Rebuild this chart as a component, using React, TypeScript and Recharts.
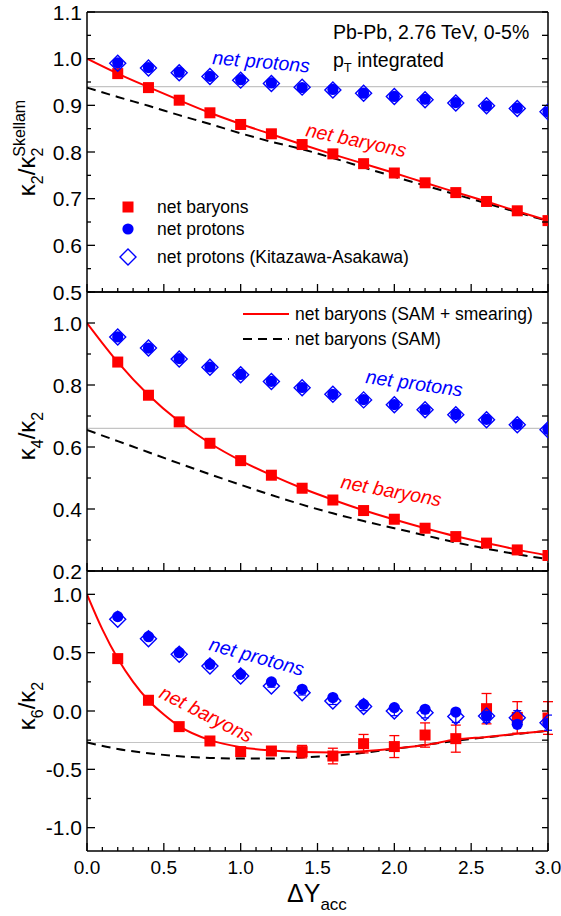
import React from 'react';
import { ComposedChart, Line, Scatter, XAxis, YAxis, ReferenceLine, ErrorBar } from 'recharts';

// x positions of the points (Delta Y_acc)
const xPoints = [0.2, 0.4, 0.6, 0.8, 1.0, 1.2, 1.4, 1.6, 1.8, 2.0, 2.2, 2.4, 2.6, 2.8, 3.0];
const curveX = [0, 0.2, 0.4, 0.6, 0.8, 1.0, 1.2, 1.4, 1.6, 1.8, 2.0, 2.2, 2.4, 2.6, 2.8, 3.0];
const k6CurveX = [0, 0.1, 0.2, 0.3, 0.4, 0.5, 0.6, 0.8, 1.0, 1.2, 1.4, 1.6, 1.8, 2.0, 2.2, 2.4, 2.6, 2.8, 3.0];

// kappa2 / kappa2 Skellam
const k2Baryons = [0.968, 0.938, 0.911, 0.884, 0.859, 0.839, 0.816, 0.796, 0.775, 0.755, 0.734, 0.713, 0.694, 0.674, 0.653];
const k2Protons = [0.991, 0.981, 0.971, 0.962, 0.955, 0.948, 0.938, 0.934, 0.926, 0.919, 0.913, 0.906, 0.899, 0.894, 0.886];
const k2ProtonsKA = [0.990, 0.980, 0.970, 0.962, 0.954, 0.947, 0.939, 0.933, 0.926, 0.919, 0.912, 0.905, 0.899, 0.893, 0.886];
const k2Smear = [1.0, 0.968, 0.939, 0.911, 0.884, 0.860, 0.838, 0.816, 0.795, 0.775, 0.755, 0.734, 0.714, 0.694, 0.673, 0.653];
const k2Sam = [0.938, 0.918, 0.899, 0.879, 0.860, 0.840, 0.822, 0.806, 0.787, 0.767, 0.747, 0.728, 0.709, 0.690, 0.671, 0.652];

// kappa4 / kappa2
const k4Baryons = [0.874, 0.767, 0.681, 0.612, 0.556, 0.509, 0.467, 0.429, 0.395, 0.367, 0.338, 0.311, 0.290, 0.268, 0.250];
const k4Protons = [0.955, 0.919, 0.885, 0.858, 0.834, 0.812, 0.792, 0.770, 0.753, 0.737, 0.721, 0.705, 0.689, 0.673, 0.657];
const k4ProtonsKA = [0.955, 0.919, 0.884, 0.857, 0.833, 0.811, 0.791, 0.770, 0.752, 0.736, 0.720, 0.704, 0.688, 0.672, 0.656];
const k4Smear = [1.0, 0.874, 0.768, 0.682, 0.612, 0.556, 0.509, 0.467, 0.430, 0.396, 0.366, 0.338, 0.312, 0.290, 0.269, 0.250];
const k4Sam = [0.655, 0.619, 0.583, 0.547, 0.512, 0.478, 0.445, 0.414, 0.386, 0.361, 0.338, 0.315, 0.292, 0.272, 0.254, 0.238];

// kappa6 / kappa2
const k6Baryons = [0.449, 0.092, -0.134, -0.257, -0.348, -0.343, -0.348, -0.386, -0.28, -0.305, -0.206, -0.237, 0.02, -0.055, -0.06];
const k6BaryonsErr = [0, 0, 0, 0, 0, 0.02, 0.053, 0.067, 0.079, 0.094, 0.104, 0.116, 0.13, 0.135, 0.14];
const k6Protons = [0.809, 0.637, 0.5, 0.40, 0.314, 0.249, 0.186, 0.115, 0.057, 0.029, 0.015, -0.009, -0.043, -0.114, -0.105];
const k6ProtonsKA = [0.786, 0.62, 0.486, 0.386, 0.30, 0.214, 0.157, 0.086, 0.038, 0.0, -0.014, -0.048, -0.043, -0.057, -0.1];
const k6ProtonsKAErr = [0, 0, 0, 0, 0, 0.01, 0.02, 0.03, 0.035, 0.04, 0.045, 0.05, 0.055, 0.06, 0.065];
const k6Smear = [1.0, 0.70, 0.45, 0.25, 0.09, -0.03, -0.13, -0.25, -0.31, -0.338, -0.352, -0.355, -0.345, -0.322, -0.292, -0.245, -0.222, -0.196, -0.17];
const k6Sam = [-0.27, -0.325, -0.362, -0.388, -0.402, -0.408, -0.407, -0.398, -0.384, -0.358, -0.325, -0.29, -0.256, -0.225, -0.197, -0.17];

// ticks
const xTicks = [0, 0.1, 0.2, 0.3, 0.4, 0.5, 0.6, 0.7, 0.8, 0.9, 1.0, 1.1, 1.2, 1.3, 1.4, 1.5, 1.6, 1.7, 1.8, 1.9, 2.0, 2.1, 2.2, 2.3, 2.4, 2.5, 2.6, 2.7, 2.8, 2.9, 3.0];
const xMajors = [0, 0.5, 1.0, 1.5, 2.0, 2.5, 3.0];
const k2Ticks = [0.5, 0.55, 0.6, 0.65, 0.7, 0.75, 0.8, 0.85, 0.9, 0.95, 1.0, 1.05, 1.1];
const k2Labels = [0.5, 0.6, 0.7, 0.8, 0.9, 1.0, 1.1];
const k4Ticks = [0.2, 0.3, 0.4, 0.5, 0.6, 0.7, 0.8, 0.9, 1.0, 1.1];
const k4Labels = [0.2, 0.4, 0.6, 0.8, 1.0];
const k6Ticks = [-1.0, -0.75, -0.5, -0.25, 0, 0.25, 0.5, 0.75, 1.0];
const k6Labels = [-1.0, -0.5, 0, 0.5, 1.0];

const FONT = '"Liberation Sans", Arial, Helvetica, sans-serif';
const RED = '#ff0000';
const BLUE = '#0000ff';
const GRAY = '#c4c4c4';
const AXIS = { stroke: '#000', strokeWidth: 1.5 };

const pts = (xs: number[], ys: number[], err?: number[]) =>
  xs.map((x, i) => ({ x, y: ys[i], err: err ? err[i] : 0 }));

const near = (v: number, list: number[]) => list.some(m => Math.abs(m - v) < 1e-6);

const makeTick = (side: string, majors: number[], labels: number[], fontSize: number) => (props: any) => {
  const { x, y, payload } = props;
  const v = payload.value;
  const len = side === 'right' ? 6 : near(v, majors) ? 8 : 4;
  const show = near(v, labels);
  let line;
  let label = null;
  if (side === 'bottom') {
    line = <line x1={x} y1={y} x2={x} y2={y - len} />;
    if (show) label = <text x={x} y={y + 23} textAnchor="middle">{v.toFixed(1)}</text>;
  } else if (side === 'top') {
    line = <line x1={x} y1={y} x2={x} y2={y + len} />;
  } else if (side === 'left') {
    line = <line x1={x} y1={y} x2={x + len} y2={y} />;
    if (show) label = <text x={x - 5} y={y + 7.5} textAnchor="end">{v.toFixed(1)}</text>;
  } else {
    line = <line x1={x} y1={y} x2={x - len} y2={y} />;
  }
  return (
    <g stroke="none">
      <g stroke="#000" strokeWidth={1.3}>{line}</g>
      <g fill="#000" fontSize={fontSize} fontFamily={FONT}>{label}</g>
    </g>
  );
};

const axes = (yDomain: [number, number], yTicks: number[], yMajors: number[], yLabels: number[], showX: boolean) => [
  <XAxis key="xb" dataKey="x" type="number" domain={[0, 3]} allowDataOverflow ticks={xTicks} interval={0}
    mirror tickSize={0} tickMargin={0} tickLine={false} axisLine={AXIS}
    tick={makeTick('bottom', xMajors, showX ? xMajors : [], 19)} />,
  <XAxis key="xt" xAxisId="top" orientation="top" type="number" domain={[0, 3]} allowDataOverflow ticks={xTicks} interval={0}
    mirror tickSize={0} tickMargin={0} tickLine={false} axisLine={AXIS}
    tick={makeTick('top', xMajors, [], 18)} />,
  <YAxis key="yl" dataKey="y" type="number" domain={yDomain} allowDataOverflow ticks={yTicks} interval={0}
    mirror tickSize={0} tickMargin={0} tickLine={false} axisLine={AXIS}
    tick={makeTick('left', yMajors, yLabels, 21)} />,
  <YAxis key="yr" yAxisId="right" orientation="right" type="number" domain={yDomain} allowDataOverflow ticks={yTicks} interval={0}
    mirror tickSize={0} tickMargin={0} tickLine={false} axisLine={AXIS}
    tick={makeTick('right', yMajors, [], 18)} />,
];

const Square = (p: any) => <rect x={p.cx - 5.5} y={p.cy - 5.5} width={11} height={11} fill={RED} />;
const Dot = (p: any) => <circle cx={p.cx} cy={p.cy} r={5.6} fill={BLUE} />;
const Diamond = (p: any) => (
  <polygon points={`${p.cx},${p.cy - 8} ${p.cx + 8},${p.cy} ${p.cx},${p.cy + 8} ${p.cx - 8},${p.cy}`}
    fill="none" stroke={BLUE} strokeWidth={1.4} />
);

const smearLine = (xs: number[], ys: number[]) => (
  <Line key="smear" data={pts(xs, ys)} dataKey="y" type="monotone" stroke={RED} strokeWidth={2} dot={false}
    isAnimationActive={false} />
);
const samLine = (xs: number[], ys: number[]) => (
  <Line key="sam" data={pts(xs, ys)} dataKey="y" type="monotone" stroke="#000" strokeWidth={2}
    strokeDasharray="9 6" dot={false} isAnimationActive={false} />
);

const W = 561;
const MARGIN = { top: 12, right: 13, left: 87 };

const App: React.FC = () => {
  const italic = { fontFamily: FONT, fontStyle: 'italic' as const, fontSize: 19.5 };
  return (
    <div style={{ position: 'absolute', left: 0, top: 0, width: W, height: 916, background: '#fff', fontFamily: FONT }}>
      <div style={{ position: 'absolute', left: 0, top: 0 }}>
        <ComposedChart width={W} height={312} margin={{ ...MARGIN, bottom: 20 }}>
          {axes([0.5, 1.1], k2Ticks, k2Labels, k2Labels, false)}
          <ReferenceLine y={0.94} stroke={GRAY} strokeWidth={1.2} />
          {samLine(curveX, k2Sam)}
          {smearLine(curveX, k2Smear)}
          <Scatter data={pts(xPoints, k2Baryons)} shape={Square} isAnimationActive={false} />
          <Scatter data={pts(xPoints, k2ProtonsKA)} shape={Diamond} isAnimationActive={false} />
          <Scatter data={pts(xPoints, k2Protons)} shape={Dot} isAnimationActive={false} />
        </ComposedChart>
      </div>
      <div style={{ position: 'absolute', left: 0, top: 280 }}>
        <ComposedChart width={W} height={312} margin={{ ...MARGIN, bottom: 21 }}>
          {axes([0.2, 1.1], k4Ticks, k4Labels, k4Labels, false)}
          <ReferenceLine y={0.66} stroke={GRAY} strokeWidth={1.2} />
          {samLine(curveX, k4Sam)}
          {smearLine(curveX, k4Smear)}
          <Scatter data={pts(xPoints, k4Baryons)} shape={Square} isAnimationActive={false} />
          <Scatter data={pts(xPoints, k4ProtonsKA)} shape={Diamond} isAnimationActive={false} />
          <Scatter data={pts(xPoints, k4Protons)} shape={Dot} isAnimationActive={false} />
        </ComposedChart>
      </div>
      <div style={{ position: 'absolute', left: 0, top: 559 }}>
        <ComposedChart width={W} height={357} margin={{ ...MARGIN, bottom: 65 }}>
          {axes([-1.2, 1.2], k6Ticks, k6Labels, k6Labels, true)}
          <ReferenceLine y={-0.27} stroke={GRAY} strokeWidth={1.2} />
          {samLine(curveX, k6Sam)}
          {smearLine(k6CurveX, k6Smear)}
          <Scatter data={pts(xPoints, k6Baryons, k6BaryonsErr)} shape={Square} isAnimationActive={false}>
            <ErrorBar dataKey="err" direction="y" width={5} stroke={RED} strokeWidth={1.3} />
          </Scatter>
          <Scatter data={pts(xPoints, k6ProtonsKA, k6ProtonsKAErr)} shape={Diamond} isAnimationActive={false}>
            <ErrorBar dataKey="err" direction="y" width={4} stroke={BLUE} strokeWidth={1.2} />
          </Scatter>
          <Scatter data={pts(xPoints, k6Protons)} shape={Dot} isAnimationActive={false} />
        </ComposedChart>
      </div>

      <svg width={W} height={916} style={{ position: 'absolute', left: 0, top: 0, pointerEvents: 'none' }}>
        {/* panel 1 header */}
        <g fontFamily={FONT} fontSize={19.5} fill="#000">
          <text x={333} y={39}>Pb-Pb, 2.76 TeV, 0-5%</text>
          <text x={333} y={67}>p<tspan fontSize={13} dy={5}>T</tspan><tspan dy={-5}> integrated</tspan></text>
        </g>
        {/* panel 1 legend */}
        <g fontFamily={FONT} fontSize={17.5} fill="#000">
          <rect x={122.5} y={201.5} width={11} height={11} fill={RED} />
          <text x={157} y={212.5}>net baryons</text>
          <circle cx={128} cy={229} r={5.6} fill={BLUE} />
          <text x={157} y={234.5}>net protons</text>
          <polygon points="128,249 136,257 128,265 120,257" fill="none" stroke={BLUE} strokeWidth={1.4} />
          <text x={157} y={262.5}>net protons (Kitazawa-Asakawa)</text>
        </g>
        {/* panel 2 legend */}
        <g fontFamily={FONT} fontSize={17.5} fill="#000">
          <line x1={243} y1={314} x2={289} y2={314} stroke={RED} strokeWidth={2} />
          <text x={295} y={320}>net baryons (SAM + smearing)</text>
          <line x1={243} y1={339} x2={289} y2={339} stroke="#000" strokeWidth={2} strokeDasharray="9 6" />
          <text x={295} y={345}>net baryons (SAM)</text>
        </g>
        {/* curve annotations */}
        <g {...italic}>
          <text transform="translate(212,64) rotate(5)" fill={BLUE}>net protons</text>
          <text transform="translate(305,136) rotate(12)" fill={RED}>net baryons</text>
          <text transform="translate(365,383) rotate(8)" fill={BLUE}>net protons</text>
          <text transform="translate(340,488) rotate(10.5)" fill={RED}>net baryons</text>
          <text transform="translate(208,650) rotate(15.5)" fill={BLUE}>net protons</text>
          <text transform="translate(158,697) rotate(27)" fill={RED}>net baryons</text>
        </g>
        {/* axis titles */}
        <g fontFamily={FONT} fill="#000">
          <text transform="translate(35,148) rotate(-90)" textAnchor="middle" fontSize={24}>
            κ<tspan fontSize={16} dy={8}>2</tspan><tspan dy={-8}>/κ</tspan><tspan fontSize={16} dy={8}>2</tspan>
            <tspan fontSize={16} dx={-9} dy={-18}>Skellam</tspan>
          </text>
          <text transform="translate(35,436) rotate(-90)" textAnchor="middle" fontSize={24}>
            κ<tspan fontSize={16} dy={8}>4</tspan><tspan dy={-8}>/κ</tspan><tspan fontSize={16} dy={8}>2</tspan>
          </text>
          <text transform="translate(35,706) rotate(-90)" textAnchor="middle" fontSize={24}>
            κ<tspan fontSize={16} dy={8}>6</tspan><tspan dy={-8}>/κ</tspan><tspan fontSize={16} dy={8}>2</tspan>
          </text>
          <text x={287} y={902} fontSize={25}>ΔY<tspan fontSize={17} dy={8}>acc</tspan></text>
        </g>
      </svg>
    </div>
  );
};

export default App;
